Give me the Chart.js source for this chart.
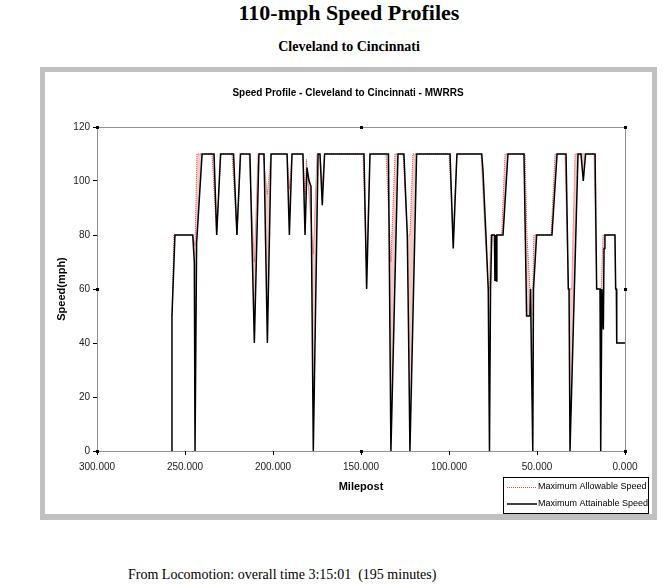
<!DOCTYPE html>
<html>
<head>
<meta charset="utf-8">
<script src="https://cdn.jsdelivr.net/npm/chart.js@4.4.1/dist/chart.umd.min.js"></script>
<style>
  body { margin: 0; width: 664px; height: 584px; background: #fff; position: relative; overflow: hidden; }
  .serif { position: absolute; font-family: 'Liberation Serif', 'Times New Roman', serif; color: #000; line-height: 1; white-space: nowrap; }
  #title { left: 0; width: 698px; top: 2px; text-align: center; font-size: 22px; font-weight: bold; }
  #sub { left: 0; width: 698px; top: 40px; text-align: center; font-size: 14px; font-weight: bold; }
  #frame { position: absolute; left: 40px; top: 67px; width: 617px; height: 453px; background: #c0c0c0; }
  #inner { position: absolute; left: 5px; top: 5px; width: 607px; height: 442px; background: #fff; }
  #foot { left: 128px; top: 568px; font-size: 14px; }
</style>
</head>
<body>
<div id="title" class="serif">110-mph Speed Profiles</div>
<div id="sub" class="serif">Cleveland to Cincinnati</div>
<div id="frame"><div id="inner"><canvas id="speedChart" width="607" height="442"></canvas></div></div>
<div id="foot" class="serif">From Locomotion: overall time 3:15:01&nbsp; (195 minutes)</div>

<script>
// Tốc độ tối đa đạt được (đường đen)
const attainMile = [257.4, 257.4, 255.7, 245.6, 244.7, 244.3, 243.4, 240.3, 233.5, 232.0, 229.8,
    222.4, 220.5, 218.5, 213.1, 210.6, 208.0, 205.1, 203.2, 201.1, 192.0, 190.7, 189.2,
    183.0, 181.8, 180.7, 179.5, 178.4, 177.1, 174.4, 173.3, 172.0, 170.7, 148.3, 146.8, 144.9,
    134.4, 133.0, 129.0, 125.6, 123.7, 123.0, 122.2, 118.4, 99.4, 97.6, 95.5,
    81.4, 80.7, 79.0, 77.7, 77.0, 76.4, 75.7, 74.2, 73.9, 73.6, 73.1, 72.8, 69.3, 66.5,
    57.4, 55.9, 54.0, 53.7, 52.4, 52.0, 50.2, 41.5, 38.6, 33.5, 32.2, 31.8, 31.25,
    26.7, 25.0, 23.7, 22.4, 17.0, 16.1, 14.2, 13.8, 13.1, 12.3, 11.9, 11.4, 5.7, 5.3, 4.9, 4.7, 0];
const attainSpeed = [0, 50, 80, 80, 70, 0, 77, 110, 110, 80, 110,
    110, 80, 110, 110, 40, 110, 110, 40, 110, 110, 80, 110,
    110, 80, 105, 100, 98, 0, 110, 110, 91, 110, 110, 60, 110,
    110, 0, 110, 110, 80, 45, 0, 110, 110, 75, 110,
    110, 104, 80, 60, 0, 60, 80, 80, 63, 80, 63, 80, 80, 110,
    110, 50, 50, 60, 0, 60, 80, 80, 110, 110, 60, 60, 0,
    110, 110, 100, 110, 110, 60, 60, 0, 60, 45, 75, 80, 80, 60, 60, 40, 40];

// Tốc độ tối đa cho phép (đường chấm đỏ)
const allowMile = [257.4, 256.3, 245.5, 244.3, 243.2, 234.7, 232.0, 229.5, 223.3, 220.5, 218.2,
    213.6, 210.6, 208.5, 205.7, 203.2, 201.1, 192.0, 190.7, 189.2, 183.0, 181.8, 181.0,
    177.1, 175.0, 173.3, 172.0, 170.7, 148.9, 146.8, 144.9, 135.8, 133.0, 130.7,
    126.1, 123.7, 122.2, 120.5, 100.0, 97.6, 95.5, 81.8, 79.5, 77.7, 77.0, 76.4, 70.1, 68.2,
    56.8, 55.7, 54.0, 52.4, 51.8, 42.0, 39.8, 34.1, 32.2, 30.3, 28.4,
    17.6, 16.1, 13.5, 12.5, 5.7, 5.3, 4.9, 4.7, 0];
const allowSpeed = [50, 80, 80, 76, 110, 110, 80, 110, 110, 80, 110,
    110, 70, 110, 110, 95, 110, 110, 97, 110, 110, 95, 108,
    73, 110, 110, 98, 110, 110, 68, 110, 110, 70, 110,
    110, 80, 80, 110, 110, 80, 110, 110, 80, 60, 60, 80, 80, 110,
    110, 80, 60, 60, 80, 80, 110, 110, 60, 60, 110,
    110, 60, 60, 80, 80, 60, 60, 40, 40];

const xTickValues = [300, 250, 200, 150, 100, 50, 0];
const yTickValues = [0, 20, 40, 60, 80, 100, 120];
const legendLabels = ['Maximum Allowable Speed', 'Maximum Attainable Speed'];

const toPoints = (xs, ys) => xs.map((x, i) => ({x: x, y: ys[i]}));

// Vẽ khung, tiêu đề và chú thích kiểu Excel
const excelFrame = {
    id: 'excelFrame',
    beforeDatasetsDraw(chart) {
        const {ctx, chartArea: a} = chart;
        ctx.save();
        ctx.strokeStyle = '#222';
        ctx.lineWidth = 1;
        ctx.setLineDash([1, 1]);
        ctx.strokeRect(a.left + 0.5, a.top + 0.5, a.right - a.left, a.bottom - a.top);
        ctx.restore();
    },
    afterDraw(chart) {
        const {ctx, chartArea: a} = chart;
        ctx.save();
        // các ô vuông chọn vùng
        const mx = (a.left + a.right) / 2, my = (a.top + a.bottom) / 2;
        ctx.fillStyle = '#000';
        [[a.left, a.top], [mx, a.top], [a.right, a.top], [a.right, my], [a.right, a.bottom],
         [mx, a.bottom], [a.left, a.bottom], [a.left, my]].forEach(p => {
            ctx.fillRect(Math.round(p[0]) - 1, Math.round(p[1]) - 1, 3, 3);
        });

        ctx.fillStyle = '#000';
        ctx.textAlign = 'center';
        ctx.textBaseline = 'middle';
        ctx.font = "bold 10px 'Liberation Sans', Arial, sans-serif";
        ctx.fillText('Speed Profile - Cleveland to Cincinnati - MWRRS', 303, 21);

        ctx.font = "bold 11px 'Liberation Sans', Arial, sans-serif";
        ctx.fillText('Milepost', mx, 415);
        ctx.save();
        ctx.translate(17, my);
        ctx.rotate(-Math.PI / 2);
        ctx.fillText('Speed(mph)', 0, 0);
        ctx.restore();

        // chú thích
        const bx = 458, by = 405, bw = 145, bh = 36;
        ctx.fillStyle = '#fff';
        ctx.fillRect(bx, by, bw, bh);
        ctx.strokeStyle = '#000';
        ctx.lineWidth = 1;
        ctx.strokeRect(bx + 0.5, by + 0.5, bw, bh);
        ctx.beginPath();
        ctx.rect(bx, by, bw, bh);
        ctx.clip();
        ctx.font = "9px 'Liberation Sans', Arial, sans-serif";
        ctx.textAlign = 'left';
        const rows = [by + 10, by + 27];
        ctx.strokeStyle = '#d04848';
        ctx.setLineDash([1, 1]);
        ctx.beginPath(); ctx.moveTo(bx + 4, rows[0] + 0.5); ctx.lineTo(bx + 34, rows[0] + 0.5); ctx.stroke();
        ctx.strokeStyle = '#000';
        ctx.setLineDash([]);
        ctx.lineWidth = 1.5;
        ctx.beginPath(); ctx.moveTo(bx + 4, rows[1]); ctx.lineTo(bx + 34, rows[1]); ctx.stroke();
        ctx.fillStyle = '#000';
        ctx.fillText(legendLabels[0], bx + 35, rows[0]);
        ctx.fillText(legendLabels[1], bx + 35, rows[1]);
        ctx.restore();
    }
};

const ctx = document.getElementById('speedChart').getContext('2d');
new Chart(ctx, {
    type: 'line',
    data: {
        datasets: [{
            label: legendLabels[0],
            data: toPoints(allowMile, allowSpeed),
            borderColor: '#d84a4a',
            backgroundColor: 'rgba(232,160,160,0.55)',
            borderWidth: 1,
            borderDash: [1, 1],
            pointRadius: 0,
            tension: 0,
            order: 1,
            fill: 1
        }, {
            label: legendLabels[1],
            data: toPoints(attainMile, attainSpeed),
            borderColor: '#000',
            borderWidth: 1.5,
            pointRadius: 0,
            tension: 0,
            order: 0,
            fill: false
        }]
    },
    options: {
        responsive: false,
        animation: false,
        devicePixelRatio: 1,
        layout: {padding: {left: 0, right: 27, top: 55, bottom: 0}},
        plugins: {legend: {display: false}, title: {display: false}, tooltip: {enabled: false}},
        scales: {
            x: {
                type: 'linear',
                reverse: true,
                min: 0,
                max: 300,
                afterBuildTicks: s => { s.ticks = xTickValues.map(v => ({value: v})); },
                afterFit: s => { s.height = 63; },
                ticks: {
                    callback: v => Number(v).toFixed(3),
                    color: '#222',
                    font: {family: "'Liberation Sans', Arial, sans-serif", size: 10},
                    padding: 6,
                    maxRotation: 0
                },
                grid: {drawOnChartArea: false, drawTicks: true, tickLength: 4, color: '#000'},
                border: {display: false}
            },
            y: {
                min: 0,
                max: 120,
                afterBuildTicks: s => { s.ticks = yTickValues.map(v => ({value: v})); },
                afterFit: s => { s.width = 52; },
                ticks: {
                    color: '#222',
                    font: {family: "'Liberation Sans', Arial, sans-serif", size: 10},
                    padding: 3
                },
                grid: {drawOnChartArea: false, drawTicks: true, tickLength: 4, color: '#000'},
                border: {display: false}
            }
        }
    },
    plugins: [excelFrame]
});
</script>
</body>
</html>
